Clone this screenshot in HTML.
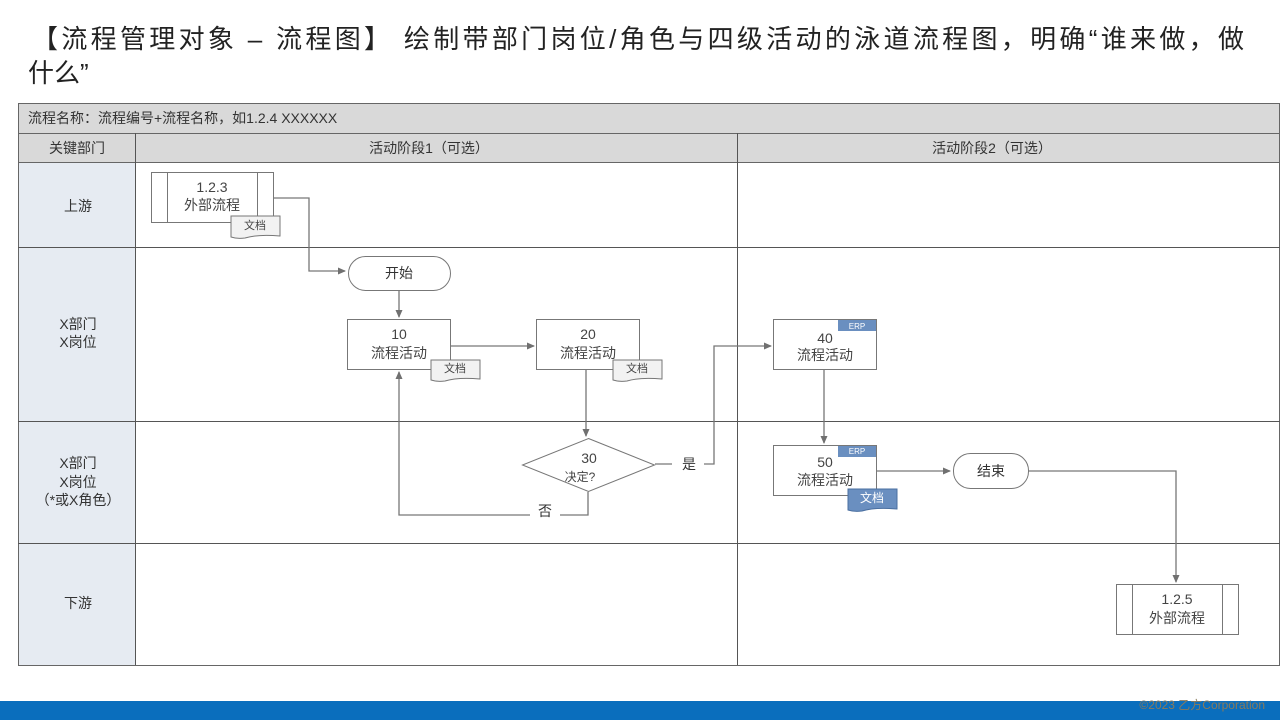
<!DOCTYPE html>
<html><head><meta charset="utf-8"><style>
body{margin:0;width:1280px;height:720px;overflow:hidden;background:#fff;font-family:"Liberation Sans","Noto Sans CJK SC",sans-serif;}
svg text{font-family:"Liberation Sans","Noto Sans CJK SC",sans-serif;}
</style></head><body>
<svg width="1280" height="720" viewBox="0 0 1280 720" xmlns="http://www.w3.org/2000/svg">
<defs><marker id="a" markerWidth="8" markerHeight="8" refX="7" refY="4" orient="auto" markerUnits="userSpaceOnUse"><path d="M0,0.5 L8,4 L0,7.5z" fill="#707070"/></marker></defs>
<text x="32" y="48" font-size="26" fill="#222" textLength="1212" lengthAdjust="spacing">【流程管理对象 – 流程图】  绘制带部门岗位/角色与四级活动的泳道流程图，明确“谁来做，做</text>
<text x="28" y="82" font-size="26" fill="#222">什么”</text>
<!-- table -->
<rect x="18.5" y="103.5" width="1261" height="30" fill="#d9d9d9" stroke="#666"/>
<rect x="18.5" y="133.5" width="1261" height="29" fill="#d9d9d9" stroke="#666"/>
<rect x="18.5" y="162.5" width="117" height="503" fill="#e6ebf2" stroke="#666"/>
<rect x="135.5" y="162.5" width="1144" height="503" fill="#fff" stroke="#666"/>
<g stroke="#555" stroke-width="1">
<line x1="18" y1="247.5" x2="1280" y2="247.5"/><line x1="18" y1="421.5" x2="1280" y2="421.5"/><line x1="18" y1="543.5" x2="1280" y2="543.5"/>
<line x1="135.5" y1="133" x2="135.5" y2="665"/><line x1="737.5" y1="133" x2="737.5" y2="665"/>
</g>
<text x="28" y="123" font-size="14" fill="#333">流程名称：流程编号+流程名称，如1.2.4 XXXXXX</text>
<g font-size="14" fill="#333" text-anchor="middle">
<text x="77" y="153">关键部门</text><text x="429" y="153">活动阶段1（可选）</text><text x="992" y="153">活动阶段2（可选）</text>
<text x="78" y="211">上游</text>
<text x="78" y="329">X部门</text><text x="78" y="347">X岗位</text>
<text x="78" y="468">X部门</text><text x="78" y="487">X岗位</text><text x="78" y="505">（*或X角色）</text>
<text x="78" y="608">下游</text>
</g>
<!-- connectors -->
<g stroke="#777" stroke-width="1.3" fill="none">
<path d="M273,198 H309 V271 H345" marker-end="url(#a)"/>
<path d="M399,291 V317" marker-end="url(#a)"/>
<path d="M450,346 H534" marker-end="url(#a)"/>
<path d="M586,370 V436" marker-end="url(#a)"/>
<path d="M655,464 H672 M704,464 H714 V346 H771" marker-end="url(#a)"/>
<path d="M588,492 V515 H560 M530,515 H399 V372" marker-end="url(#a)"/>
<path d="M824,370 V443" marker-end="url(#a)"/>
<path d="M876,471 H950" marker-end="url(#a)"/>
<path d="M1028,471 H1176 V582" marker-end="url(#a)"/>
</g>
<!-- external process 1.2.3 -->
<g stroke="#777" fill="#fff"><rect x="151.5" y="172.5" width="122" height="50"/><line x1="167.5" y1="172" x2="167.5" y2="222"/><line x1="257.5" y1="172" x2="257.5" y2="222"/></g>
<text x="212" y="192" font-size="14" fill="#444" text-anchor="middle">1.2.3</text>
<text x="212" y="210" font-size="14" fill="#444" text-anchor="middle">外部流程</text>
<g stroke="#777" fill="#f2f2f2">
<path d="M231,216 H280 V236 Q258,234 245,238 Q237,239 231,237 Z"/>
</g>
<g font-size="11" fill="#444" text-anchor="middle"><text x="255" y="229">文档</text></g>
<!-- start -->
<rect x="348.5" y="256.5" width="102" height="34" rx="17" fill="#fff" stroke="#777"/>
<text x="399" y="278" font-size="14" fill="#333" text-anchor="middle">开始</text>
<!-- 10, 20 -->
<rect x="347.5" y="319.5" width="103" height="50" fill="#fff" stroke="#777"/>
<text x="399" y="339" font-size="14" fill="#444" text-anchor="middle">10</text><text x="399" y="358" font-size="14" fill="#444" text-anchor="middle">流程活动</text>
<rect x="536.5" y="319.5" width="103" height="50" fill="#fff" stroke="#777"/>
<text x="588" y="339" font-size="14" fill="#444" text-anchor="middle">20</text><text x="588" y="358" font-size="14" fill="#444" text-anchor="middle">流程活动</text>
<g stroke="#777" fill="#f2f2f2">
<path d="M431,360 H480 V379 Q458,377 445,381 Q437,382 431,380 Z"/>
<path d="M613,360 H662 V379 Q640,377 627,381 Q619,382 613,380 Z"/>
</g>
<g font-size="11" fill="#444" text-anchor="middle"><text x="455" y="372">文档</text><text x="637" y="372">文档</text></g>
<!-- decision -->
<path d="M588.5,438.5 L654.5,465 L588.5,491.5 L522.5,465 Z" fill="#fff" stroke="#777"/>
<text x="589" y="463" font-size="14" fill="#444" text-anchor="middle">30</text><text x="580" y="481" font-size="12" fill="#444" text-anchor="middle">决定?</text>
<text x="689" y="469" font-size="14" fill="#333" text-anchor="middle">是</text>
<text x="545" y="516" font-size="14" fill="#333" text-anchor="middle">否</text>
<!-- 40 -->
<rect x="773.5" y="319.5" width="103" height="50" fill="#fff" stroke="#777"/>
<rect x="838" y="320" width="38" height="11" fill="#6a8fc0"/><text x="857" y="329" font-size="8" fill="#fff" text-anchor="middle">ERP</text>
<text x="825" y="343" font-size="14" fill="#444" text-anchor="middle">40</text><text x="825" y="360" font-size="14" fill="#444" text-anchor="middle">流程活动</text>
<!-- 50 -->
<rect x="773.5" y="445.5" width="103" height="50" fill="#fff" stroke="#777"/>
<rect x="838" y="446" width="38" height="11" fill="#6a8fc0"/><text x="857" y="454" font-size="8" fill="#fff" text-anchor="middle">ERP</text>
<text x="825" y="467" font-size="14" fill="#444" text-anchor="middle">50</text><text x="825" y="485" font-size="14" fill="#444" text-anchor="middle">流程活动</text>
<path d="M848,489 H897 V509 Q875,507 862,511 Q854,512 848,510 Z" fill="#6a8fc0" stroke="#4a6fa0"/>
<text x="872" y="502" font-size="12" fill="#fff" text-anchor="middle">文档</text>
<!-- end -->
<rect x="953.5" y="453.5" width="75" height="35" rx="17" fill="#fff" stroke="#777"/>
<text x="991" y="476" font-size="14" fill="#333" text-anchor="middle">结束</text>
<!-- 1.2.5 -->
<g stroke="#777" fill="#fff"><rect x="1116.5" y="584.5" width="122" height="50"/><line x1="1132.5" y1="584" x2="1132.5" y2="634"/><line x1="1222.5" y1="584" x2="1222.5" y2="634"/></g>
<text x="1177" y="604" font-size="14" fill="#444" text-anchor="middle">1.2.5</text>
<text x="1177" y="623" font-size="14" fill="#444" text-anchor="middle">外部流程</text>
<!-- footer -->
<rect x="0" y="701" width="1280" height="19" fill="#0a6ebd"/>
<text x="1265" y="709" font-size="12" fill="#8a7a5a" text-anchor="end">©2023 乙方Corporation</text>
</svg>
</body></html>
